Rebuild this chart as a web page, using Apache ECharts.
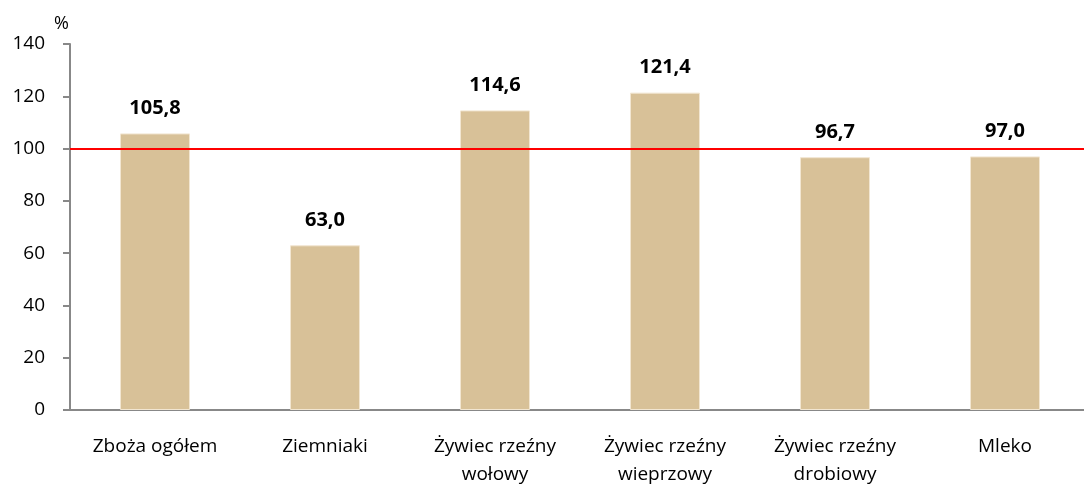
<!DOCTYPE html>
<html><head><meta charset="utf-8">
<script src="https://cdn.jsdelivr.net/npm/echarts@6/dist/echarts.min.js"></script>
<style>html,body{margin:0;padding:0;background:#fff}#c{width:1084px;height:484px}</style>
</head><body><div id="c"></div>
<script>
const categories = ['Zboża ogółem', 'Ziemniaki', 'Żywiec rzeźny\nwołowy', 'Żywiec rzeźny\nwieprzowy', 'Żywiec rzeźny\ndrobiowy', 'Mleko'];
const values = [105.8, 63.0, 114.6, 121.4, 96.7, 97.0];
const refLine = 100;
const yMin = 0, yMax = 140, yStep = 20;
const font = 'Open Sans';
const chart = echarts.init(document.getElementById('c'));
chart.setOption({
  animation: false,
  grid: { left: 70, top: 44, width: 1020, height: 366, outerBoundsMode: 'none', containLabel: false },
  graphic: [{ type: 'text', left: 54, top: 15, style: { text: '%', fontSize: 18, fontFamily: font, fill: '#000' } }],
  xAxis: {
    type: 'category', data: categories,
    axisLine: { lineStyle: { color: '#888', width: 2 } },
    axisTick: { show: false },
    axisLabel: { color: '#000', fontSize: 19, fontFamily: font, margin: 23, lineHeight: 28, interval: 0 }
  },
  yAxis: {
    type: 'value', min: yMin, max: yMax, interval: yStep,
    axisLine: { show: true, lineStyle: { color: '#888', width: 2 } },
    axisTick: { show: true, length: 7, lineStyle: { color: '#888', width: 2 } },
    splitLine: { show: false },
    axisLabel: { color: '#000', fontSize: 19, fontFamily: font, margin: 25 }
  },
  series: [{
    type: 'bar', data: values, barWidth: 70,
    itemStyle: { color: '#D8C198', borderColor: '#F2E6D2', borderWidth: 1 },
    label: { show: true, position: 'top', distance: 15, color: '#000', fontWeight: 'bold', fontSize: 20, fontFamily: font,
      formatter: p => p.value.toFixed(1).replace('.', ',') },
    markLine: { silent: true, symbol: 'none', label: { show: false },
      lineStyle: { color: '#FF0000', width: 2, type: 'solid' },
      data: [{ yAxis: refLine }] }
  }]
});
</script></body></html>
